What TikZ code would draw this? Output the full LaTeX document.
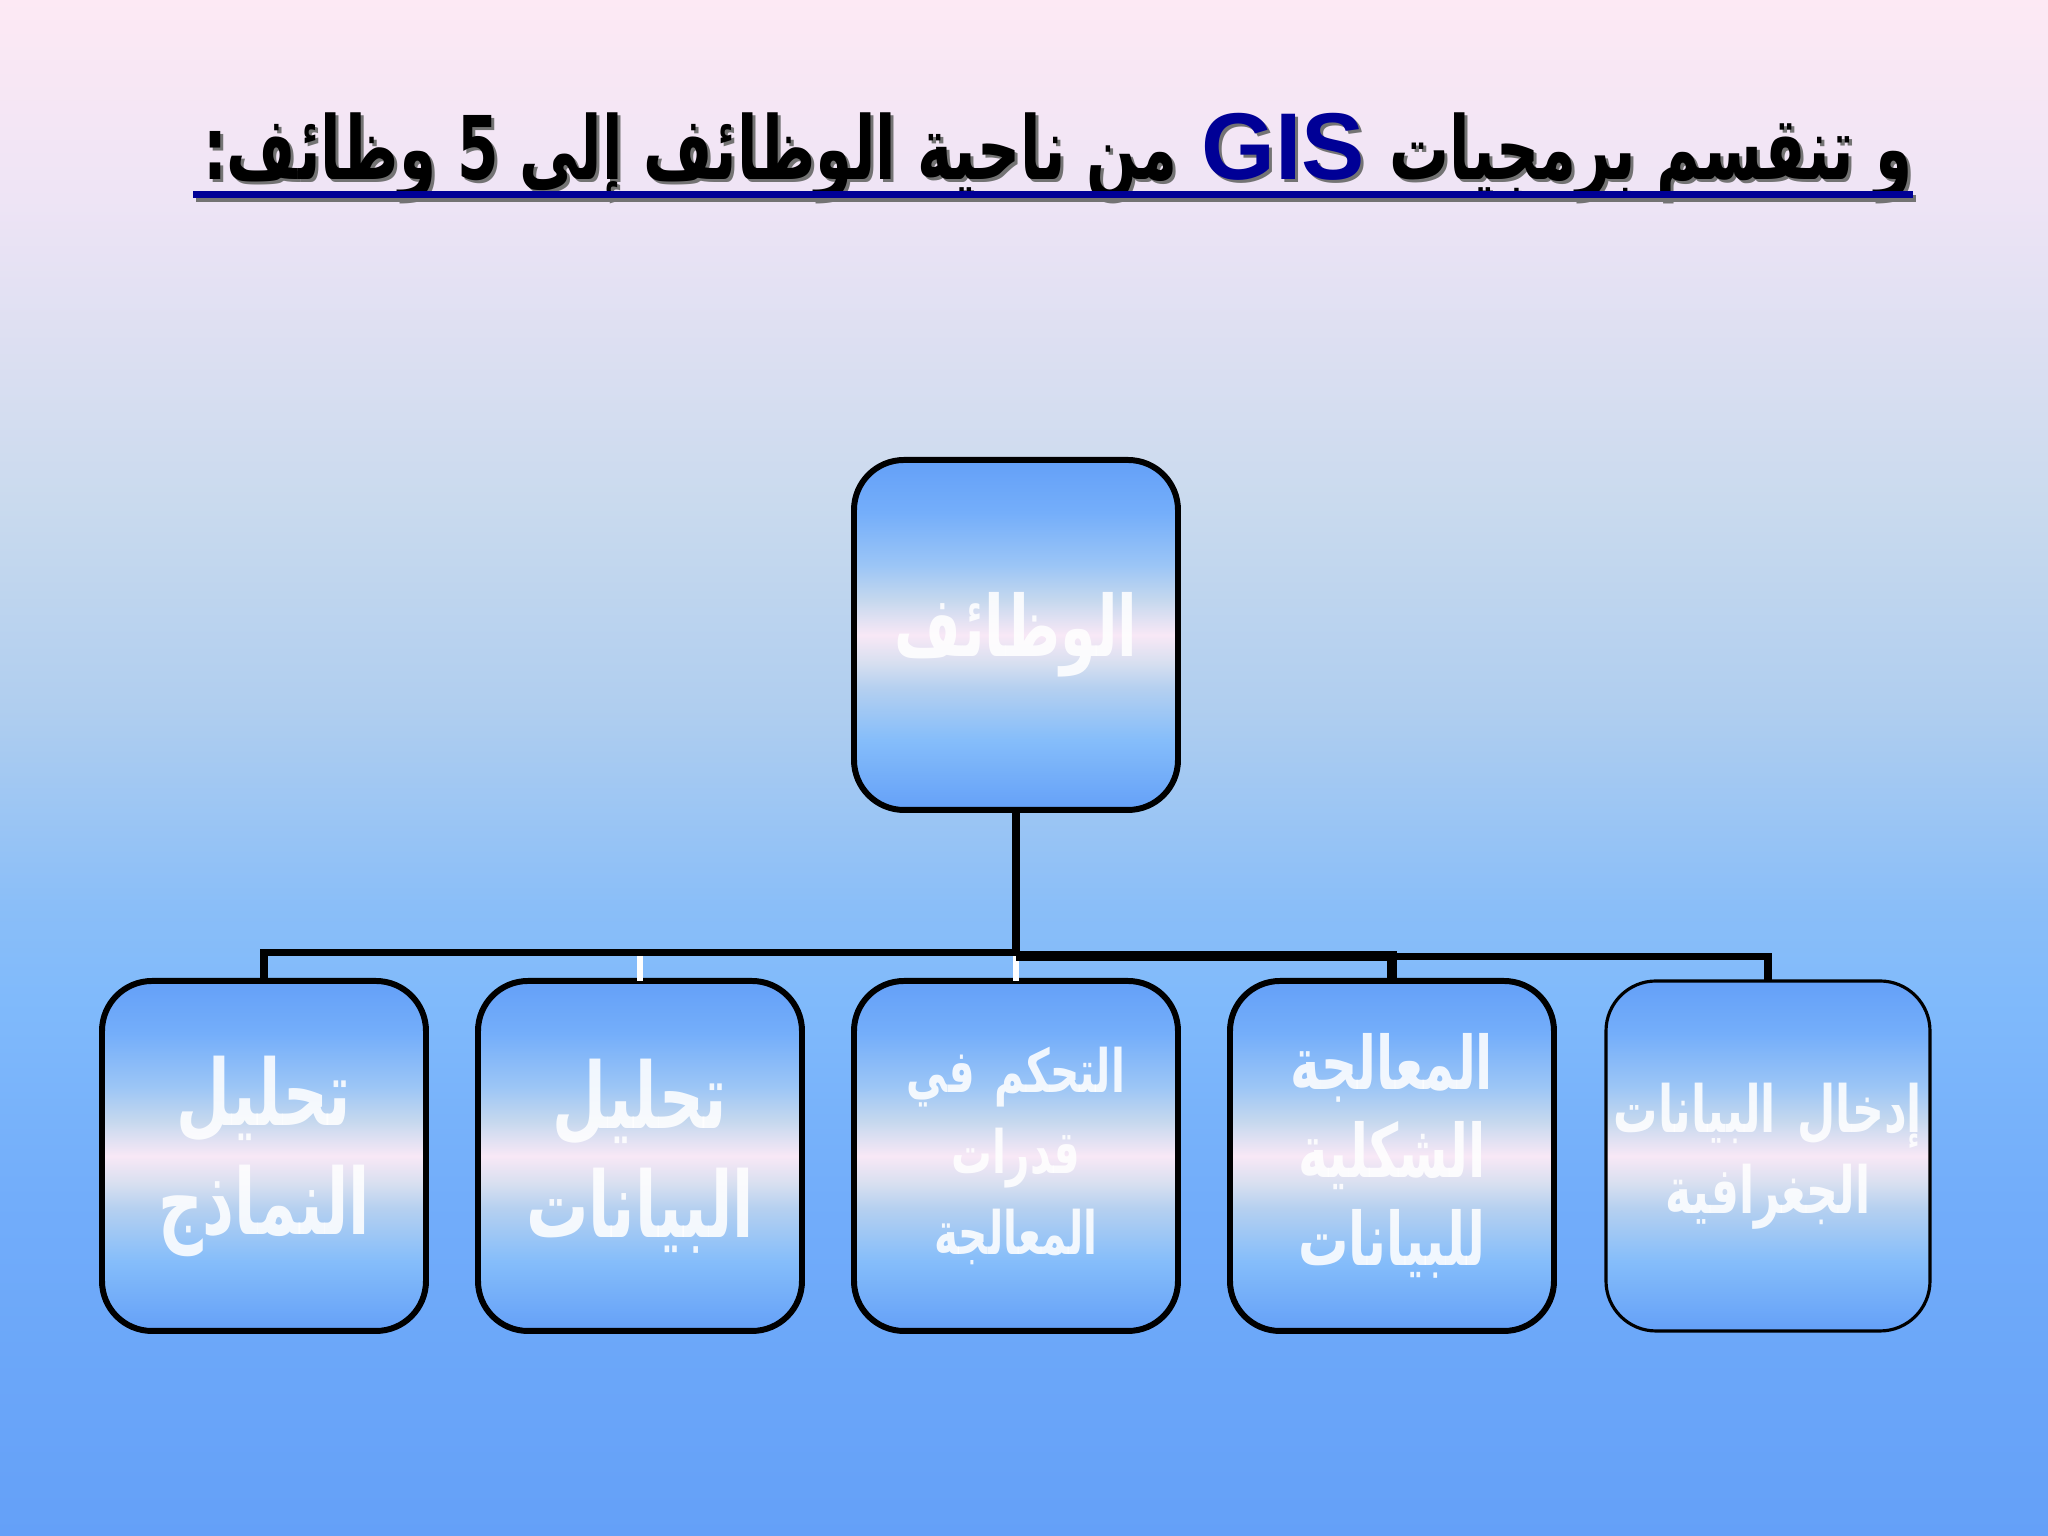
\documentclass[tikz,border=0pt]{standalone}
\usepackage{fontspec}
\setmainfont{Liberation Sans}
\newfontfamily\arabicfont[Script=Arabic, FakeStretch=0.68]{DejaVu Sans}
\TeXXeTstate=1
\usetikzlibrary{positioning,calc}
\newcommand{\artxt}[1]{\beginR #1\endR}
\definecolor{gisblue}{RGB}{0,0,150}
\definecolor{bgA}{HTML}{FDE9F4}
\definecolor{bgB}{HTML}{EEE4F5}
\definecolor{bgC}{HTML}{C9DAEE}
\definecolor{bgD}{HTML}{B0CEEF}
\definecolor{bgE}{HTML}{8ABEF8}
\definecolor{bgF}{HTML}{80BAFB}
\definecolor{bgG}{HTML}{72ADFA}
\definecolor{bgH}{HTML}{64A0F8}
\definecolor{bxA}{HTML}{64A0F8}
\definecolor{bxB}{HTML}{74AEFA}
\definecolor{bxC}{HTML}{9BC5F6}
\definecolor{bxD}{HTML}{C5D8EE}
\definecolor{bxE}{HTML}{F8E8F6}
\definecolor{bxF}{HTML}{D7DFF0}
\definecolor{bxG}{HTML}{B5D0F0}
\definecolor{bxH}{HTML}{85BDFA}
\pgfdeclareverticalshading{bgshade}{100bp}{color(0bp)=(bgH); color(25bp)=(bgH); color(36bp)=(bgG);
  color(42.5bp)=(bgF); color(45.5bp)=(bgE); color(52bp)=(bgD); color(58.5bp)=(bgC); color(68.5bp)=(bgB);
  color(75bp)=(bgA); color(100bp)=(bgA)}
\pgfdeclareverticalshading{boxshade}{100bp}{color(0bp)=(bxA); color(25bp)=(bxA); color(35bp)=(bxH);
  color(42.5bp)=(bxG); color(46bp)=(bxF); color(50bp)=(bxE); color(55bp)=(bxD); color(60bp)=(bxC);
  color(67.5bp)=(bxB); color(75bp)=(bxA); color(100bp)=(bxA)}
\tikzset{
  fbox/.style={draw=black, line width=1.7pt, rounded corners=0.5cm, text width=3.24cm,
    minimum height=3.5cm, shading=boxshade, text=white, text opacity=0.88, align=center,
    inner sep=0pt, outer sep=0pt},
  link/.style={line width=2pt},
  titletext/.style={anchor=base east, inner sep=0pt, font=\arabicfont\bfseries\fontsize{25}{28}\selectfont},
  gistext/.style={anchor=base east, inner sep=0pt, font=\bfseries\fontsize{27}{30}\selectfont}
}

\begin{document}
\begin{tikzpicture}
  \fill[shading=bgshade] (0,0) rectangle (20.48,15.36);
  \useasboundingbox (0,0) rectangle (20.48,15.36);
  % title, shadow first
  \foreach \s/\dx/\tc/\gc in {s/0.03/black!55/black!55, t/0/black/gisblue}{
    \node[titletext, text=\tc] (\s1) at (19.13+\dx,13.56-\dx) {\artxt{و تنقسم برمجيات}};
    \node[gistext, text=\gc] (\s2) at ([xshift=-0.23cm]\s1.base west) {GIS};
    \node[titletext, text=\tc] (\s3) at ([xshift=-0.23cm]\s2.base west) {\artxt{من ناحية الوظائف إلى 5 وظائف:}};
  }
  \draw[line width=2pt, black!55] (1.96,13.37) -- (19.16,13.37);
  \draw[line width=2pt, gisblue] (1.93,13.41) -- (19.13,13.41);
  % boxes
  \node[fbox, font=\arabicfont\bfseries\fontsize{24}{30}\selectfont] (fn) at (10.16,9.01) {\artxt{الوظائف}};
  \node[fbox, below=1.71cm of fn, font=\arabicfont\bfseries\fontsize{17}{23}\selectfont] (f3)
    {\artxt{التحكم في}\\\artxt{قدرات}\\\artxt{المعالجة}};
  \node[fbox, left=0.52cm of f3, font=\arabicfont\bfseries\fontsize{26}{31}\selectfont] (f2)
    {\artxt{تحليل}\\\artxt{البيانات}};
  \node[fbox, left=0.52cm of f2, font=\arabicfont\bfseries\fontsize{26}{31}\selectfont] (f1)
    {\artxt{تحليل}\\\artxt{النماذج}};
  \node[fbox, right=0.52cm of f3, font=\arabicfont\bfseries\fontsize{21}{25}\selectfont] (f4)
    {\artxt{المعالجة}\\\artxt{الشكلية}\\\artxt{للبيانات}};
  \node[fbox, right=0.52cm of f4, line width=0.9pt, font=\arabicfont\bfseries\fontsize{18.5}{23}\selectfont] (f5)
    {\artxt{إدخال البيانات}\\\artxt{الجغرافية}};
  % connectors
  \coordinate (bar) at ($(fn.south)+(0,-1.43)$);
  \coordinate (barR) at ($(f4.north |- bar)+(0,-0.04)$);
  \draw[line width=1.5pt, white] (f2.north) -- (f2.north |- bar);
  \draw[line width=1.5pt, white] (f3.north) -- (bar);
  \draw[link] (fn.south) -- (bar) -| (f1.north);
  \draw[link, line width=2.8pt] ($(bar)+(0,-0.03)$) -| (f4.north);
  \draw[link] (barR) -| (f5.north);
\end{tikzpicture}
\end{document}
